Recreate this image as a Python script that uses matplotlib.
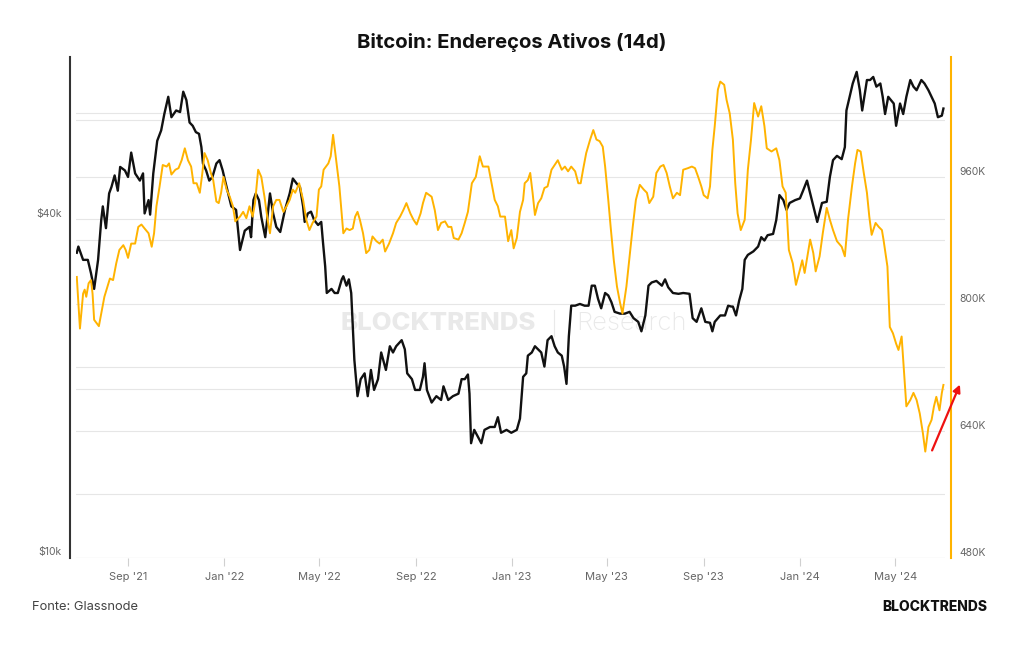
import matplotlib
matplotlib.use('Agg')
import matplotlib.pyplot as plt
import matplotlib.dates as mdates
from matplotlib.ticker import FixedLocator, NullLocator
from matplotlib.transforms import blended_transform_factory
import pandas as pd

plt.rcParams['font.family'] = ['Inter', 'DejaVu Sans']

# ---------------- data ----------------
btc_dates = [
    "2021-06-28","2021-06-30","2021-07-06","2021-07-12","2021-07-16","2021-07-20","2021-07-25","2021-07-29",
    "2021-07-31","2021-08-04","2021-08-08","2021-08-11","2021-08-15","2021-08-19","2021-08-22","2021-08-28",
    "2021-09-01","2021-09-05","2021-09-10","2021-09-16","2021-09-20","2021-09-22","2021-09-27","2021-09-29",
    "2021-10-03","2021-10-08","2021-10-13","2021-10-17","2021-10-22","2021-10-26","2021-11-01","2021-11-06",
    "2021-11-10","2021-11-14","2021-11-18","2021-11-22","2021-11-26","2021-11-30","2021-12-03","2021-12-05",
    "2021-12-09","2021-12-13","2021-12-17","2021-12-22","2021-12-26","2021-12-30","2022-01-02","2022-01-06",
    "2022-01-10","2022-01-16","2022-01-21","2022-01-27","2022-02-02","2022-02-04","2022-02-07","2022-02-10",
    "2022-02-14","2022-02-17","2022-02-22","2022-02-28","2022-03-04","2022-03-08","2022-03-13","2022-03-19",
    "2022-03-25","2022-03-29","2022-04-03","2022-04-07","2022-04-11","2022-04-13","2022-04-17","2022-04-21",
    "2022-04-25","2022-04-30","2022-05-04","2022-05-06","2022-05-09","2022-05-11","2022-05-17","2022-05-21",
    "2022-05-25","2022-05-30","2022-06-01","2022-06-05","2022-06-08","2022-06-11","2022-06-13","2022-06-15",
    "2022-06-19","2022-06-23","2022-06-28","2022-07-02","2022-07-06","2022-07-10","2022-07-15","2022-07-19",
    "2022-07-25","2022-07-30","2022-08-03","2022-08-07","2022-08-14","2022-08-18","2022-08-21","2022-08-27",
    "2022-08-31","2022-09-06","2022-09-10","2022-09-12","2022-09-15","2022-09-21","2022-09-27","2022-10-03",
    "2022-10-06","2022-10-12","2022-10-18","2022-10-25","2022-10-29","2022-11-02","2022-11-06","2022-11-08",
    "2022-11-10","2022-11-14","2022-11-18","2022-11-23","2022-11-27","2022-12-04","2022-12-10","2022-12-14",
    "2022-12-18","2022-12-25","2022-12-31","2023-01-07","2023-01-11","2023-01-15","2023-01-19","2023-01-21",
    "2023-01-26","2023-01-30","2023-02-03","2023-02-07","2023-02-11","2023-02-15","2023-02-20","2023-02-24",
    "2023-02-28","2023-03-05","2023-03-08","2023-03-11","2023-03-14","2023-03-17","2023-03-22","2023-03-28",
    "2023-04-03","2023-04-08","2023-04-12","2023-04-16","2023-04-20","2023-04-24","2023-04-29","2023-05-03",
    "2023-05-07","2023-05-11","2023-05-18","2023-05-24","2023-05-30","2023-06-04","2023-06-10","2023-06-14",
    "2023-06-19","2023-06-23","2023-06-27","2023-07-03","2023-07-10","2023-07-14","2023-07-18","2023-07-24",
    "2023-07-31","2023-08-06","2023-08-14","2023-08-18","2023-08-23","2023-08-29","2023-09-03","2023-09-09",
    "2023-09-12","2023-09-15","2023-09-22","2023-09-28","2023-10-02","2023-10-06","2023-10-08","2023-10-12",
    "2023-10-16","2023-10-20","2023-10-23","2023-10-27","2023-11-03","2023-11-09","2023-11-13","2023-11-17",
    "2023-11-21","2023-11-28","2023-12-02","2023-12-06","2023-12-11","2023-12-15","2023-12-19","2023-12-26",
    "2024-01-01","2024-01-05","2024-01-10","2024-01-14","2024-01-18","2024-01-23","2024-01-29","2024-02-04",
    "2024-02-08","2024-02-12","2024-02-17","2024-02-23","2024-02-27","2024-02-29","2024-03-04","2024-03-08",
    "2024-03-13","2024-03-17","2024-03-20","2024-03-26","2024-03-30","2024-04-03","2024-04-07","2024-04-12",
    "2024-04-15","2024-04-18","2024-04-22","2024-04-29","2024-05-02","2024-05-07","2024-05-11","2024-05-15",
    "2024-05-20","2024-05-24","2024-05-28","2024-06-03","2024-06-07","2024-06-12","2024-06-16","2024-06-20",
    "2024-06-24","2024-06-29","2024-07-01",
]
btc_price_k = [
    34.9,35.8,33.9,33.9,32.1,30.1,33.9,39.9,
    42.2,38.6,44.5,45.7,47.9,45.0,49.6,48.9,
    47.6,52.6,48.3,46.9,48.3,41.0,43.3,40.8,
    48.3,55.2,57.6,61.6,66.1,60.8,62.5,62.1,
    67.5,65.2,59.5,58.7,57.2,56.8,53.8,50.3,
    48.9,46.9,47.6,50.3,51.0,48.9,46.9,44.5,
    42.2,41.6,35.3,38.2,38.8,37.2,43.3,44.5,
    43.3,40.4,37.2,44.5,41.0,38.8,38.0,41.6,
    44.5,47.3,46.3,45.7,42.2,39.6,41.0,41.3,
    39.9,39.1,39.6,36.7,33.0,29.6,30.1,29.6,
    29.6,31.3,31.7,30.5,31.3,29.6,25.8,22.5,
    19.4,20.8,21.3,19.4,21.6,19.9,20.8,23.2,
    21.6,23.8,23.2,23.8,24.4,23.5,21.3,20.8,
    19.9,19.9,21.0,22.2,19.9,18.9,19.4,19.1,
    20.2,19.1,19.4,19.6,20.8,20.8,21.2,19.6,
    16.0,16.9,16.5,16.0,16.9,17.1,17.1,17.8,
    16.7,16.9,16.7,16.9,17.7,21.0,21.3,22.9,
    23.2,23.8,23.5,23.2,21.9,24.4,24.8,23.8,
    23.2,22.9,21.9,20.4,24.8,28.1,28.1,28.3,
    28.1,28.1,30.5,30.5,28.9,27.8,29.6,29.3,
    28.5,27.4,27.2,27.2,27.4,26.7,26.3,25.3,
    27.0,30.5,30.9,31.1,30.5,31.3,30.3,29.6,
    29.5,29.6,29.5,26.7,26.3,27.8,26.3,26.2,
    25.3,26.3,27.0,27.0,28.1,28.0,28.0,27.0,
    28.7,30.1,33.9,34.6,35.1,35.8,37.2,36.7,
    37.5,37.7,39.9,44.2,43.3,41.6,42.8,43.3,
    43.6,45.0,46.9,44.5,42.2,39.6,42.8,43.0,
    47.6,51.0,51.9,51.2,53.8,62.5,66.1,69.8,
    73.2,67.9,62.5,70.8,70.8,71.7,68.9,69.8,
    66.1,61.6,66.1,64.3,58.7,64.3,61.6,66.1,
    70.8,68.9,67.9,70.8,69.8,67.9,66.1,64.3,
    60.8,61.2,63.0,
]

addr_dates = [
    "2021-06-28","2021-06-30","2021-07-02","2021-07-06","2021-07-08","2021-07-10","2021-07-13","2021-07-16",
    "2021-07-18","2021-07-20","2021-07-23","2021-07-26","2021-07-29","2021-08-02","2021-08-06","2021-08-09",
    "2021-08-13","2021-08-17","2021-08-21","2021-08-26","2021-08-29","2021-09-01","2021-09-05","2021-09-10",
    "2021-09-14","2021-09-18","2021-09-22","2021-09-27","2021-10-01","2021-10-04","2021-10-07","2021-10-11",
    "2021-10-15","2021-10-20","2021-10-23","2021-10-26","2021-10-31","2021-11-04","2021-11-08","2021-11-12",
    "2021-11-16","2021-11-20","2021-11-23","2021-11-27","2021-12-01","2021-12-04","2021-12-07","2021-12-11",
    "2021-12-15","2021-12-18","2021-12-22","2021-12-25","2021-12-28","2021-12-31","2022-01-04","2022-01-08",
    "2022-01-12","2022-01-15","2022-01-21","2022-01-25","2022-01-29","2022-02-02","2022-02-06","2022-02-09",
    "2022-02-13","2022-02-17","2022-02-21","2022-02-25","2022-02-28","2022-03-04","2022-03-08","2022-03-12",
    "2022-03-17","2022-03-21","2022-03-25","2022-03-29","2022-04-01","2022-04-06","2022-04-11","2022-04-15",
    "2022-04-19","2022-04-23","2022-04-28","2022-05-01","2022-05-04","2022-05-07","2022-05-13","2022-05-16",
    "2022-05-19","2022-05-23","2022-05-27","2022-06-01","2022-06-05","2022-06-09","2022-06-13","2022-06-16",
    "2022-06-19","2022-06-22","2022-06-26","2022-06-30","2022-07-04","2022-07-08","2022-07-13","2022-07-17",
    "2022-07-21","2022-07-24","2022-07-29","2022-08-03","2022-08-07","2022-08-12","2022-08-16","2022-08-20",
    "2022-08-25","2022-08-29","2022-09-02","2022-09-07","2022-09-10","2022-09-14","2022-09-21","2022-09-25",
    "2022-09-29","2022-10-03","2022-10-08","2022-10-12","2022-10-16","2022-10-19","2022-10-25","2022-10-29",
    "2022-11-02","2022-11-06","2022-11-11","2022-11-16","2022-11-21","2022-11-25","2022-12-02","2022-12-06",
    "2022-12-10","2022-12-14","2022-12-17","2022-12-23","2022-12-27","2022-12-31","2023-01-03","2023-01-07",
    "2023-01-11","2023-01-15","2023-01-17","2023-01-21","2023-01-24","2023-01-27","2023-01-30","2023-02-03",
    "2023-02-07","2023-02-11","2023-02-15","2023-02-20","2023-02-24","2023-02-28","2023-03-05","2023-03-09",
    "2023-03-13","2023-03-17","2023-03-22","2023-03-26","2023-03-29","2023-04-01","2023-04-05","2023-04-10",
    "2023-04-14","2023-04-18","2023-04-22","2023-04-26","2023-04-29","2023-05-03","2023-05-06","2023-05-10",
    "2023-05-14","2023-05-18","2023-05-21","2023-05-26","2023-05-30","2023-06-03","2023-06-07","2023-06-12",
    "2023-06-17","2023-06-21","2023-06-24","2023-06-29","2023-07-03","2023-07-08","2023-07-12","2023-07-16",
    "2023-07-20","2023-07-24","2023-07-29","2023-08-02","2023-08-06","2023-08-12","2023-08-17","2023-08-21",
    "2023-08-25","2023-08-29","2023-09-01","2023-09-06","2023-09-09","2023-09-12","2023-09-15","2023-09-19",
    "2023-09-22","2023-09-27","2023-09-30","2023-10-04","2023-10-08","2023-10-11","2023-10-14","2023-10-18",
    "2023-10-23","2023-10-27","2023-10-31","2023-11-04","2023-11-09","2023-11-13","2023-11-17","2023-11-20",
    "2023-11-26","2023-12-02","2023-12-06","2023-12-10","2023-12-14","2023-12-18","2023-12-23","2023-12-27",
    "2024-01-01","2024-01-04","2024-01-07","2024-01-14","2024-01-18","2024-01-21","2024-01-26","2024-01-30",
    "2024-02-04","2024-02-08","2024-02-12","2024-02-17","2024-02-23","2024-02-27","2024-03-02","2024-03-07",
    "2024-03-11","2024-03-14","2024-03-18","2024-03-22","2024-03-26","2024-03-29","2024-04-01","2024-04-06",
    "2024-04-10","2024-04-14","2024-04-16","2024-04-21","2024-04-24","2024-04-28","2024-05-02","2024-05-05",
    "2024-05-09","2024-05-11","2024-05-15","2024-05-20","2024-05-24","2024-05-28","2024-06-01","2024-06-05",
    "2024-06-08","2024-06-12","2024-06-16","2024-06-19","2024-06-22","2024-06-26","2024-06-29","2024-07-01",
]
addr_active_k = [
    834,801,769,813,818,809,826,830,
    813,780,776,772,788,809,822,832,
    830,851,868,874,868,858,876,876,
    897,900,895,889,872,889,923,948,
    975,973,977,963,969,971,981,996,
    981,973,952,952,940,963,990,981,
    965,956,929,927,940,960,944,935,
    923,904,910,916,908,923,910,927,
    969,960,935,906,889,923,931,931,
    916,923,931,944,940,952,931,906,
    893,902,910,944,948,969,977,986,
    1013,981,948,889,895,893,895,910,
    916,906,889,864,868,885,879,876,
    881,866,876,889,902,910,918,927,
    914,906,900,914,927,940,935,918,
    893,902,904,897,897,883,881,889,
    902,916,952,960,986,973,973,952,
    931,923,910,910,879,893,870,883,
    916,931,952,956,965,940,912,927,
    933,946,948,969,975,981,969,973,
    967,973,967,952,952,969,990,1007,
    1019,1007,1005,998,973,931,897,855,
    822,801,788,822,860,897,931,950,
    944,940,927,935,965,973,975,965,
    948,933,940,937,969,971,973,971,
    960,948,937,933,948,994,1024,1070,
    1080,1076,1057,1040,1007,952,914,893,
    906,969,1007,1053,1036,1049,1024,996,
    992,996,981,948,940,868,851,824,
    843,855,839,881,864,841,860,889,
    921,906,893,879,872,860,906,948,
    977,994,992,965,940,910,887,902,
    897,893,881,847,771,763,750,742,
    759,729,671,679,688,679,662,637,
    614,645,654,671,683,666,688,698,
]

left_ticks = [10000, 40000]
left_tick_labels = ["$10k", "$40k"]
left_grid = [10000, 20000, 40000, 60000]
right_ticks = [480, 640, 800, 960]
right_tick_labels = ["480K", "640K", "800K", "960K"]
right_grid = [480, 560, 640, 720, 800, 880, 960, 1040]

title = "Bitcoin: Endereços Ativos (14d)"
source = "Fonte: Glassnode"
brand = "BLOCKTRENDS"

# ---------------- figure ----------------
W, H = 1024, 645
fig = plt.figure(figsize=(W / 100, H / 100), dpi=100)
fig.patch.set_facecolor('white')
ax = fig.add_axes([76 / W, 1 - 558 / H, (945 - 76) / W, (558 - 57) / H])
ax.patch.set_visible(False)
ax2 = ax.twinx()

bd = pd.to_datetime(btc_dates)
ad = pd.to_datetime(addr_dates)
BLACK = '#111111'
ORANGE = '#FFB300'
GRID = '#e6e6e6'

ax.plot(bd, [v * 1000 for v in btc_price_k], color=BLACK, lw=1.7, zorder=3,
        solid_joinstyle='round')
ax2.plot(ad, addr_active_k, color=ORANGE, lw=1.4, zorder=3, solid_joinstyle='round')

ax.set_yscale('log')
ax.set_ylim(10000, 77800)
ax2.set_ylim(480, 1111)
ax.set_xlim(pd.Timestamp('2021-06-27'), pd.Timestamp('2024-07-03'))

# gridlines (all drawn on the lower axes, beneath both lines)
for v in left_grid:
    ax.axhline(v, color=GRID, lw=0.8, zorder=1)
bt = blended_transform_factory(ax.transAxes, ax2.transData)
for v in right_grid:
    ax.plot([0, 1], [v, v], transform=bt, color=GRID, lw=0.8, zorder=1,
            scalex=False, scaley=False)

# y axes: manual labels slightly above their gridlines
for a in (ax, ax2):
    a.yaxis.set_major_locator(FixedLocator([]))
    a.yaxis.set_minor_locator(NullLocator())
    a.tick_params(axis='y', length=0)
for v, lab in zip(left_ticks, left_tick_labels):
    ax.annotate(lab, xy=(0, v), xycoords=('axes fraction', 'data'),
                xytext=(-10.3, 4.2), textcoords='offset points',
                ha='right', va='center', fontsize=7.5, color='#666666')
for v, lab in zip(right_ticks, right_tick_labels):
    ax2.annotate(lab, xy=(1, v), xycoords=('axes fraction', 'data'),
                 xytext=(10.1, 3.6), textcoords='offset points',
                 ha='left', va='center', fontsize=7.5, color='#666666')

# spines
for s in ('top', 'bottom', 'right'):
    ax.spines[s].set_visible(False)
ax.spines['left'].set_position(('outward', 4.3))
ax.spines['left'].set_color('#333333')
ax.spines['left'].set_linewidth(1.5)
for s in ('top', 'bottom', 'left'):
    ax2.spines[s].set_visible(False)
ax2.spines['right'].set_position(('outward', 4.1))
ax2.spines['right'].set_color(ORANGE)
ax2.spines['right'].set_linewidth(1.5)

# x axis
ax.xaxis.set_major_locator(mdates.MonthLocator(bymonth=[1, 5, 9]))
ax.xaxis.set_major_formatter(mdates.DateFormatter("%b '%y"))
ax.tick_params(axis='x', length=5.8, width=0.8, color='#d0d0d0',
               labelsize=8, labelcolor='#666666', pad=4)

# watermark
ax.text(536 / W, 1 - 323 / H, "BLOCKTRENDS", transform=fig.transFigure,
        ha='right', va='center', fontsize=18.5, fontweight='heavy',
        color='#e9e9e9', zorder=0.5)
ax.text(576 / W, 1 - 323 / H, "Research", transform=fig.transFigure,
        ha='left', va='center', fontsize=18.5, fontweight='light',
        color='#e9e9e9', zorder=0.5)
ax.plot([554 / W, 554 / W], [1 - 310 / H, 1 - 336 / H], transform=fig.transFigure,
        color='#e9e9e9', lw=0.8, zorder=0.5, scalex=False, scaley=False)

# texts
fig.text(0.5, 1 - 43 / H, title, ha='center', va='center',
         fontsize=14.6, fontweight='bold', color='#111111')
fig.text(32 / W, 1 - 607 / H, source, ha='left', va='center',
         fontsize=9.3, color='#444444')
fig.text(987 / W, 1 - 607 / H, brand, ha='right', va='center',
         fontsize=10, fontweight='heavy', color='#111111')

# red arrow annotation
fig.add_artist(matplotlib.patches.FancyArrowPatch(
    (931 / W, 1 - 453 / H), (961 / W, 1 - 382 / H), transform=fig.transFigure,
    arrowstyle='-|>', mutation_scale=11, color='#ee1111', lw=1.6))

fig.savefig('out.png', dpi=100, facecolor='white')
